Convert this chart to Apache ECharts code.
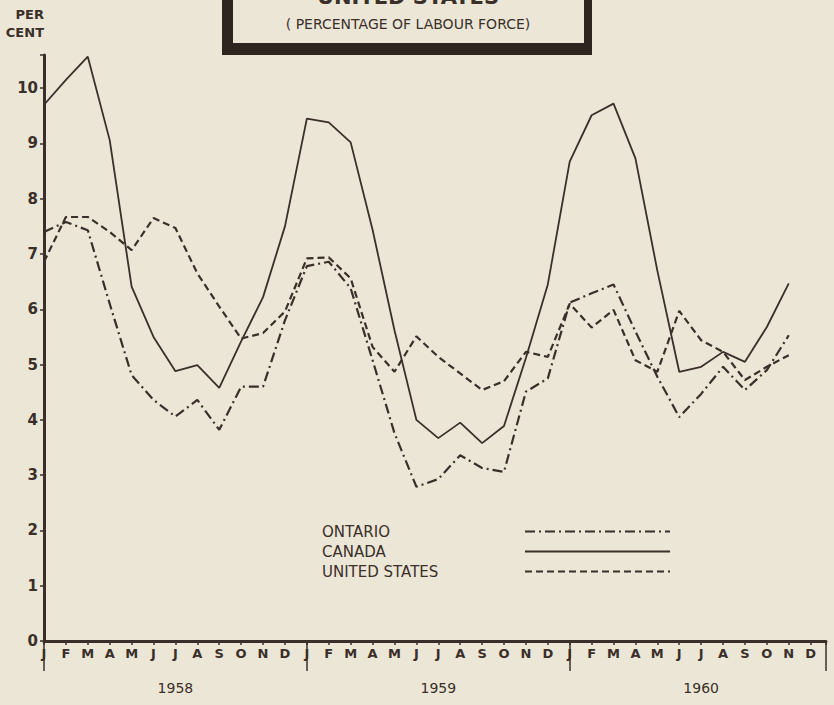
<!DOCTYPE html>
<html>
<head>
<meta charset="utf-8">
<script src="https://cdn.jsdelivr.net/npm/echarts@6/dist/echarts.min.js"></script>
<style>
html,body{margin:0;padding:0;background:#ece6d6;}
#chart{width:834px;height:705px;}
</style>
</head>
<body>
<div id="chart"></div>
<script>
// Month tick labels, Jan 1958 .. Dec 1960
const monthLabels = ['J','F','M','A','M','J','J','A','S','O','N','D',
                     'J','F','M','A','M','J','J','A','S','O','N','D',
                     'J','F','M','A','M','J','J','A','S','O','N','D'];
const yearLabels = ['1958','1959','1960'];
const yTickLabels = ['0','1','2','3','4','5','6','7','8','9','10'];

// Unemployment rates (% of labour force), Jan 1958 .. Nov 1960
const ontario = [7.40, 7.58, 7.43, 6.10, 4.81, 4.36, 4.06, 4.36, 3.82, 4.60, 4.60, 5.80,
                 6.78, 6.86, 6.38, 5.08, 3.76, 2.79, 2.93, 3.36, 3.13, 3.06, 4.51, 4.75,
                 6.12, 6.29, 6.45, 5.60, 4.78, 4.05, 4.47, 4.96, 4.54, 4.90, 5.53];
const canada  = [9.70, 10.15, 10.57, 9.06, 6.41, 5.50, 4.88, 4.99, 4.58, 5.42, 6.22, 7.50,
                 9.45, 9.38, 9.02, 7.44, 5.62, 4.00, 3.67, 3.95, 3.58, 3.89, 5.12, 6.45,
                 8.67, 9.51, 9.72, 8.73, 6.70, 4.87, 4.96, 5.23, 5.05, 5.68, 6.47];
const unitedStates = [6.86, 7.67, 7.67, 7.40, 7.07, 7.65, 7.47, 6.65, 6.05, 5.47, 5.57, 5.96,
                 6.92, 6.94, 6.56, 5.32, 4.87, 5.51, 5.14, 4.84, 4.54, 4.70, 5.23, 5.14,
                 6.10, 5.67, 5.99, 5.08, 4.87, 5.97, 5.44, 5.23, 4.72, 4.96, 5.17];
const seriesNames = ['ONTARIO', 'CANADA', 'UNITED STATES'];
const titleText = 'UNITED STATES';
const subtitleText = '( PERCENTAGE OF LABOUR FORCE)';

const INK = '#3a2f29';
const BG = '#ece6d6';
const FONT = '"DejaVu Sans", Lato, sans-serif';

function pairs(arr){ return arr.map((v,i)=>[i,v]); }

const chart = echarts.init(document.getElementById('chart'), null, {renderer:'svg'});
const X_MAX = 35.7;

chart.setOption({
  backgroundColor: BG,
  animation: false,
  textStyle: {fontFamily: FONT, color: INK},
  grid: {left: 44, right: 8, top: 55, bottom: 64},
  xAxis: [
    {
      type: 'value', min: 0, max: X_MAX, interval: 1,
      axisLine: {show: true, onZero: false, lineStyle: {color: INK, width: 3}},
      axisTick: {show: true, length: 4, lineStyle: {color: INK, width: 1.5}},
      splitLine: {show: false},
      axisLabel: {
        color: INK, fontSize: 13, fontWeight: 'bold', fontFamily: FONT, margin: 6,
        formatter: v => (Number.isInteger(v) && v < monthLabels.length) ? monthLabels[v] : ''
      }
    },
    {
      type: 'value', min: 0, max: X_MAX, interval: 12, position: 'bottom', offset: 31,
      axisLine: {show: false},
      axisTick: {show: true, length: 30, lineStyle: {color: INK, width: 1.5}},
      splitLine: {show: false},
      axisLabel: {show: false}
    },
    {
      type: 'value', min: 0, max: X_MAX, interval: 6, position: 'bottom', offset: 40,
      axisLine: {show: false},
      axisTick: {show: false},
      splitLine: {show: false},
      axisLabel: {
        color: INK, fontSize: 14, fontFamily: FONT, margin: 0,
        formatter: v => v === 6 ? yearLabels[0] : v === 18 ? yearLabels[1] : v === 30 ? yearLabels[2] : ''
      }
    }
  ],
  yAxis: {
    type: 'value', min: 0, max: 10.6, interval: 1,
    name: 'PER\nCENT', nameLocation: 'end', nameGap: 14,
    nameTextStyle: {color: INK, fontSize: 13, fontWeight: 'bold', align: 'right', lineHeight: 18, fontFamily: FONT},
    axisLine: {show: true, onZero: false, lineStyle: {color: INK, width: 3}},
    axisTick: {show: true, length: 4, lineStyle: {color: INK, width: 1.5}},
    splitLine: {show: false},
    axisLabel: {
      color: INK, fontSize: 15, fontWeight: 'bold', fontFamily: FONT, margin: 6,
      formatter: v => (Number.isInteger(v) && v < yTickLabels.length) ? yTickLabels[v] : ''
    }
  },
  legend: {
    orient: 'vertical', left: 317, top: 519, align: 'right',
    itemWidth: 145, itemHeight: 12, itemGap: 5,
    formatter: name => '{t|' + name + '}',
    textStyle: {
      color: INK, fontFamily: FONT,
      rich: {t: {width: 198, align: 'left', fontSize: 15, lineHeight: 19, color: INK, fontFamily: FONT}}
    },
    data: seriesNames
  },
  series: [
    {name: seriesNames[0], type: 'line', symbol: 'none', data: pairs(ontario),
     lineStyle: {color: INK, width: 2.2, type: [10, 4, 2, 4]}, itemStyle: {color: 'rgba(0,0,0,0)'}},
    {name: seriesNames[1], type: 'line', symbol: 'none', data: pairs(canada),
     lineStyle: {color: INK, width: 1.8, type: 'solid'}, itemStyle: {color: 'rgba(0,0,0,0)'}},
    {name: seriesNames[2], type: 'line', symbol: 'none', data: pairs(unitedStates),
     lineStyle: {color: INK, width: 2.2, type: [7, 4]}, itemStyle: {color: 'rgba(0,0,0,0)'}}
  ],
  graphic: [
    {type: 'rect', shape: {x: 222, y: -20, width: 370, height: 75}, style: {fill: '#2e2520'}, z: 10},
    {type: 'rect', shape: {x: 233, y: -20, width: 351, height: 63}, style: {fill: BG}, z: 11},
    {type: 'text', x: 408, y: -3, style: {text: titleText, fill: INK, font: 'bold 21px ' + FONT, align: 'center', verticalAlign: 'middle'}, z: 12},
    {type: 'text', x: 408, y: 24, style: {text: subtitleText, fill: INK, font: '14px ' + FONT, align: 'center', verticalAlign: 'middle'}, z: 12}
  ]
});
</script>
</body>
</html>
